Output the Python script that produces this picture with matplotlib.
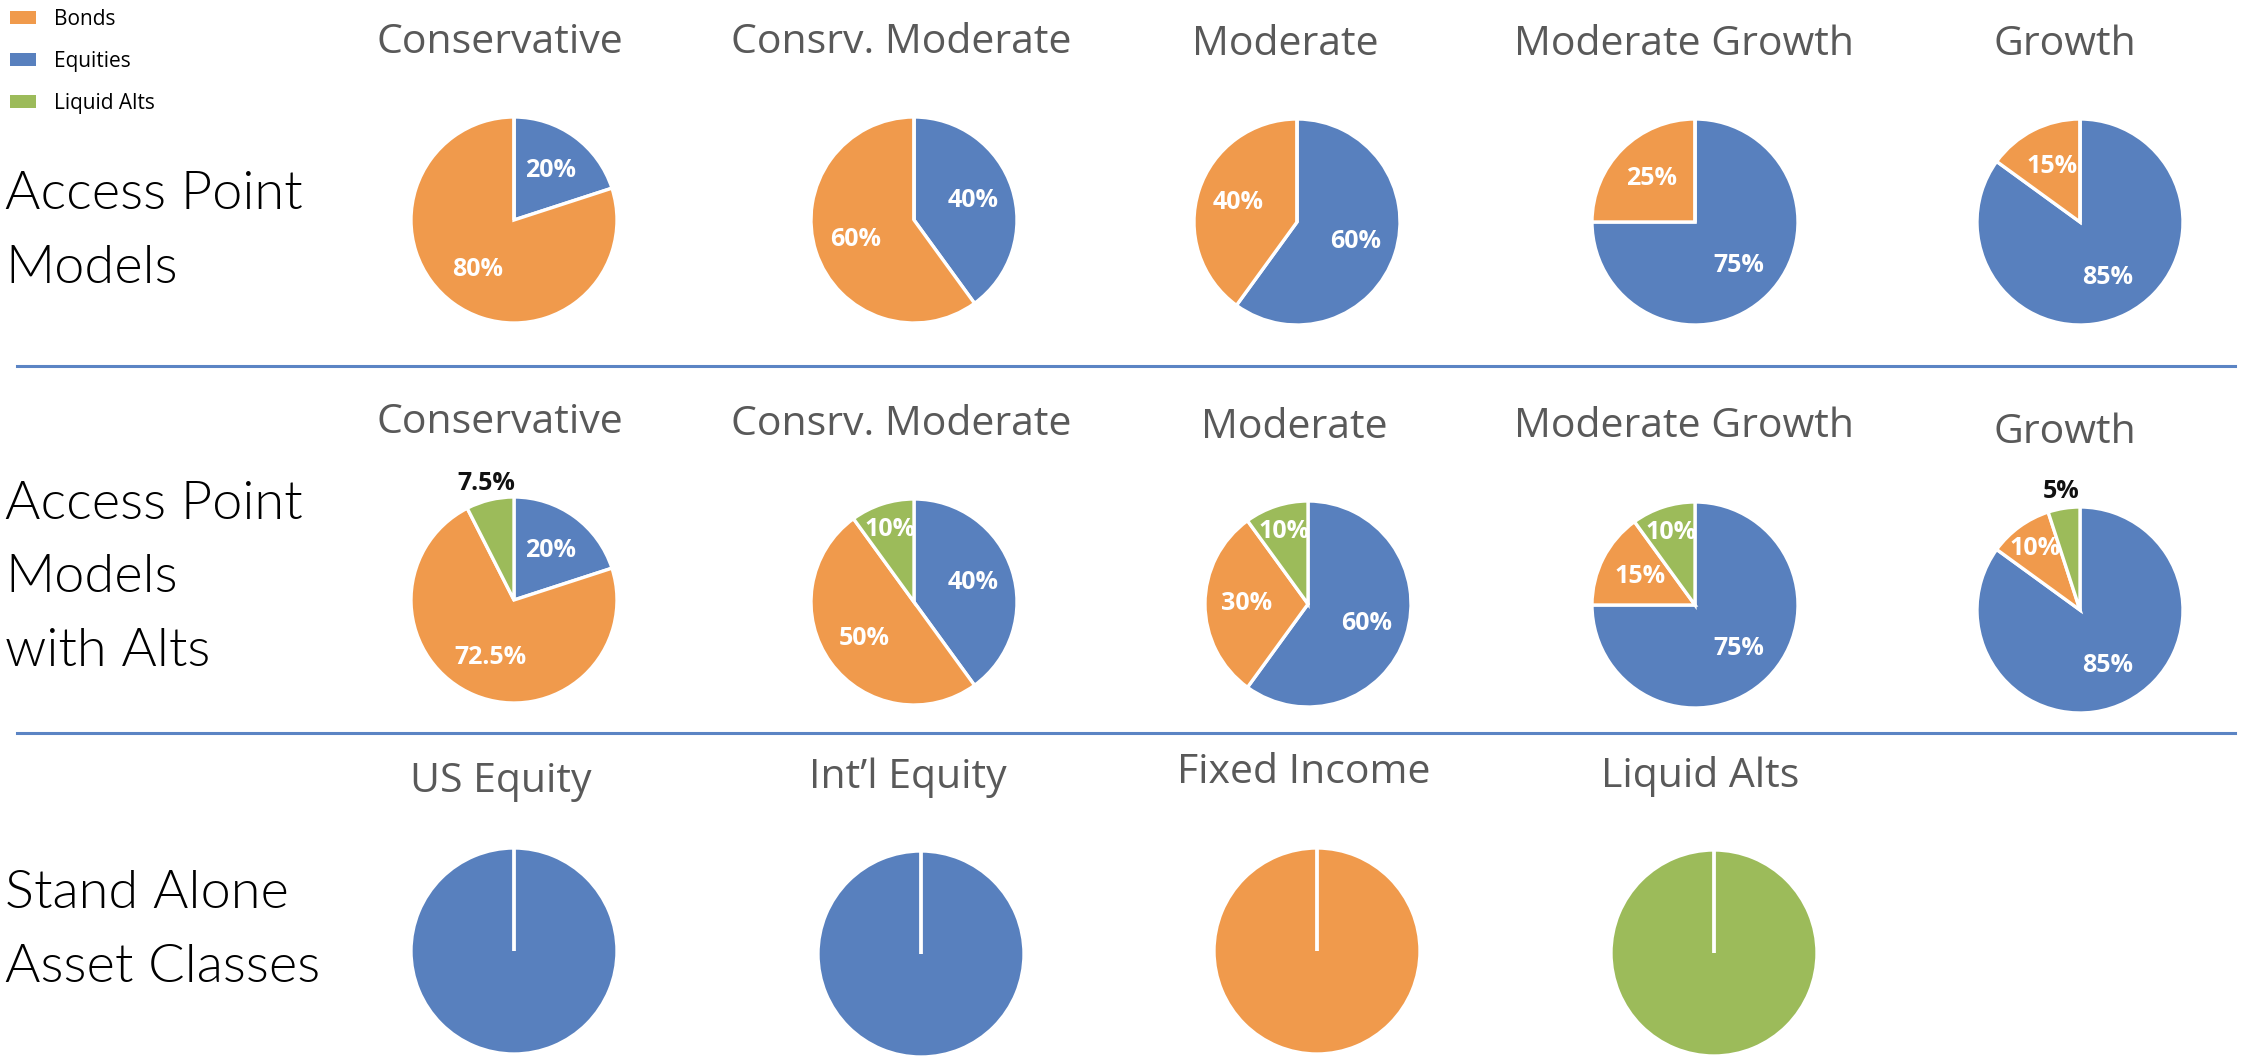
import numpy as np
import matplotlib
matplotlib.use("Agg")
import matplotlib.pyplot as plt
from matplotlib.patches import Patch
from matplotlib.lines import Line2D

W, H = 2249, 1062

# colours
c_bonds = '#F09A4C'
c_equities = '#5880BE'
c_alts = '#9CBB5A'
colors = [c_equities, c_bonds, c_alts]

# data
model_names = ['Conservative', 'Consrv. Moderate', 'Moderate', 'Moderate Growth', 'Growth']
ap_equities = [20, 40, 60, 75, 85]
ap_bonds = [80, 60, 40, 25, 15]
ap_alts = [0, 0, 0, 0, 0]

alt_equities = [20, 40, 60, 75, 85]
alt_bonds = [72.5, 50, 30, 15, 10]
alt_alts = [7.5, 10, 10, 10, 5]

sa_names = ['US Equity', 'Int\u2019l Equity', 'Fixed Income', 'Liquid Alts']
sa_equities = [100, 100, 0, 0]
sa_bonds = [0, 0, 100, 0]
sa_alts = [0, 0, 0, 100]

legend_labels = ['Bonds', 'Equities', 'Liquid Alts']
row_labels = [['Access Point', 'Models'],
              ['Access Point', 'Models', 'with Alts'],
              ['Stand Alone', 'Asset Classes']]

# layout (pixels)
R = 103
row1_centers = [(514, 220), (914, 220), (1297, 222), (1695, 222), (2080, 222)]
row2_centers = [(514, 600), (914, 602), (1308, 604), (1695, 605), (2080, 610)]
row3_centers = [(514, 951), (921, 954), (1317, 951), (1714, 953)]
row1_titles = [(500, 53), (901, 53), (1285, 55), (1684, 55), (2065, 55)]
row2_titles = [(500, 433), (901, 435), (1294, 438), (1684, 437), (2065, 443)]
row3_titles = [(501, 792), (908, 788), (1304, 783), (1700, 787)]

fig = plt.figure(figsize=(W / 100, H / 100), dpi=100)
fig.patch.set_facecolor('white')

title_font = dict(family=['Open Sans', 'DejaVu Sans'], size=29.5, color='#595959')
label_font = ['Open Sans', 'DejaVu Sans']


def draw_pie(center, values):
    cx, cy = center
    k = 1.4
    ax = fig.add_axes([(cx - R * k) / W, 1 - (cy + R * k) / H, 2 * R * k / W, 2 * R * k / H])
    wedges, _ = ax.pie(values, colors=colors, startangle=90, counterclock=False,
                       radius=1, normalize=True,
                       wedgeprops=dict(edgecolor='white', linewidth=2.4))
    total = sum(values)
    for w, v in zip(wedges, values):
        if v == 0:
            # empty slice -> just the white seam at 12 o'clock
            w.set_zorder(5)
        if v <= 0 or v >= total:
            continue
        mid = np.deg2rad((w.theta1 + w.theta2) / 2)
        pct = 100 * v / total
        txt = f'{pct:g}%'
        if pct < 8:
            d, col = 1.16, '#111111'
        elif pct < 15:
            d, col = 0.74, 'white'
        else:
            d, col = 0.6, 'white'
        ax.text(d * np.cos(mid), d * np.sin(mid), txt, ha='center', va='center',
                color=col, fontsize=18, fontweight='bold', family=label_font, zorder=6)
    ax.set_xlim(-k, k)
    ax.set_ylim(-k, k)
    ax.axis('off')


for i, name in enumerate(model_names):
    draw_pie(row1_centers[i], [ap_equities[i], ap_bonds[i], ap_alts[i]])
    x, y = row1_titles[i]
    fig.text(x / W, 1 - y / H, name, ha='center', va='baseline', **title_font)

for i, name in enumerate(model_names):
    draw_pie(row2_centers[i], [alt_equities[i], alt_bonds[i], alt_alts[i]])
    x, y = row2_titles[i]
    fig.text(x / W, 1 - y / H, name, ha='center', va='baseline', **title_font)

for i, name in enumerate(sa_names):
    draw_pie(row3_centers[i], [sa_equities[i], sa_bonds[i], sa_alts[i]])
    x, y = row3_titles[i]
    fig.text(x / W, 1 - y / H, name, ha='center', va='baseline', **title_font)

# row labels on the left
row_base = [209, 519, 908]
for lines, b0 in zip(row_labels, row_base):
    for j, line in enumerate(lines):
        fig.text(5 / W, 1 - (b0 + j * 73.5) / H, line, ha='left', va='baseline',
                 fontsize=39, fontweight=300, color='#000000',
                 family=['Lato', 'DejaVu Sans'])

# separators
for y in [366, 733]:
    fig.add_artist(Line2D([17 / W, 2235 / W], [1 - y / H, 1 - y / H],
                          color='#5B84C4', linewidth=2.2))

# legend
handles = [Patch(facecolor=c, edgecolor='none') for c in [c_bonds, c_equities, c_alts]]
fig.legend(handles, legend_labels, loc='upper left', bbox_to_anchor=(10 / W, 1 - 9 / H),
           frameon=False, handlelength=1.25, handleheight=0.55,
           handletextpad=0.85, labelspacing=1.0, borderpad=0, borderaxespad=0,
           prop=dict(family=['Open Sans', 'DejaVu Sans'], size=15))

fig.savefig('out.png', dpi=100, facecolor='white')
